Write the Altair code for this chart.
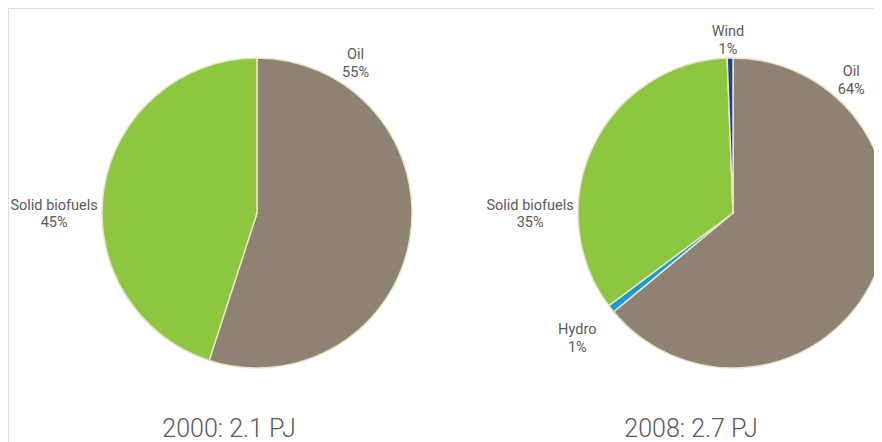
import altair as alt
import pandas as pd

# ---- data ----
years = ["2000", "2000", "2008", "2008", "2008", "2008"]
sources = ["Oil", "Solid biofuels", "Oil", "Hydro", "Solid biofuels", "Wind"]
shares = [55.0, 45.0, 64.0, 0.8, 34.6, 0.6]
order = [0, 1, 0, 1, 2, 3]

title_years = ["2000", "2008"]
title_texts = ["2000: 2.1 PJ", "2008: 2.7 PJ"]

df = pd.DataFrame({"year": years, "source": sources, "share": shares, "order": order})
tdf = pd.DataFrame({"year": title_years, "title": title_texts})

# ---- styles ----
FONT = "Roboto"
TXT = "#595959"
colors = alt.Scale(domain=["Oil", "Hydro", "Solid biofuels", "Wind"],
                   range=["#8F8272", "#1B9AD6", "#8DC63F", "#1F3E9A"])
xpos = alt.Scale(type="point", padding=0, domain=["2000", "2008"], range=[249, 725])
theta_scale = alt.Scale(domain=[0, 100], range=[0, 6.283185307])

# label placement (angle in degrees clockwise from top, radius in px)
label_angle = ("datum.source=='Oil' ? (datum.year=='2000' ? 32 : 40) : "
               "datum.source=='Solid biofuels' ? 272 : "
               "datum.source=='Hydro' ? 233 : 358.4")
label_radius = ("datum.source=='Oil' ? (datum.year=='2000' ? 186 : 184) : "
                "datum.source=='Solid biofuels' ? 203 : "
                "datum.source=='Hydro' ? 195 : 181")

base = alt.Chart(df).transform_window(
    end="sum(share)", groupby=["year"], sort=[alt.SortField("order")],
    frame=[None, 0]
).transform_calculate(start="datum.end - datum.share")

pies = base.mark_arc(radius=155, stroke="#E8E5C8", strokeWidth=1.5).encode(
    x=alt.X("year:N", scale=xpos, axis=None),
    y=alt.value(205),
    theta=alt.Theta("start:Q", scale=theta_scale),
    theta2="end:Q",
    color=alt.Color("source:N", scale=colors, legend=None),
)

labels = base.transform_calculate(
    label="datum.source + '\\n' + format(datum.share, '.0f') + '%'",
    la=label_angle,
    lr=label_radius,
    lt="datum.la / 360 * 100",
).mark_text(font=FONT, fontSize=14.5, color=TXT, lineBreak="\n",
            align="center", baseline="middle", lineHeight=17.5).encode(
    x=alt.X("year:N", scale=xpos, axis=None),
    y=alt.value(205),
    theta=alt.Theta("lt:Q", scale=theta_scale),
    radius=alt.Radius("lr:Q", scale=None),
    text="label:N",
)

titles = alt.Chart(tdf).mark_text(font=FONT, fontSize=25, fontWeight=300,
                                   color=TXT, align="center", baseline="middle").encode(
    x=alt.X("year:N", scale=alt.Scale(type="point", padding=0, domain=["2000", "2008"],
                                      range=[221, 683]), axis=None),
    y=alt.value(421),
    text="title:N",
)

chart = alt.layer(pies, labels, titles).resolve_scale(x="independent").properties(
    width=866, height=434, padding=0, autosize=alt.AutoSizeParams(type="none")
).configure_view(stroke="transparent", strokeWidth=0).configure(background="white")

chart.save("out.html", embed_options={"renderer": "svg", "actions": False})
